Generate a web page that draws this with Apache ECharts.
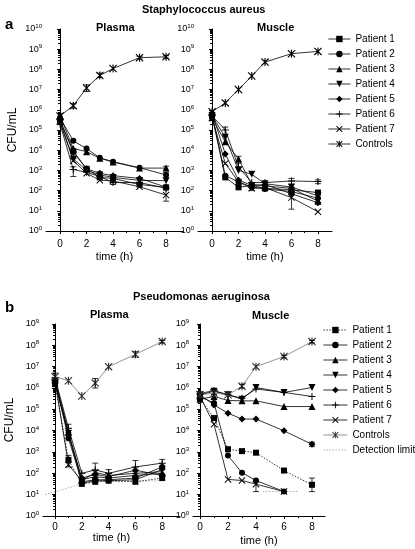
<!DOCTYPE html>
<html><head><meta charset="utf-8">
<script src="https://cdn.jsdelivr.net/npm/echarts@6/dist/echarts.min.js"></script>
<style>html,body{margin:0;padding:0;background:#fff}#c{width:415px;height:549px}</style>
</head><body><div id="c"></div>
<script>
// ---------- data ----------
const times = [0, 1, 2, 3, 4, 6, 8];
const xTickValues = [0, 2, 4, 6, 8];
const xMinorValues = [1, 3, 5, 7];
const patientNames = ['Patient 1', 'Patient 2', 'Patient 3', 'Patient 4', 'Patient 5', 'Patient 6', 'Patient 7', 'Controls'];

// Staphylococcus aureus – plasma
const saPlasmaP1 = [3e5, 9e3, 1.2e3, 450, 400, 200, 145];
const saPlasmaP2 = [4e5, 2.9e4, 1.2e4, 4.2e3, 2.7e3, 1.35e3, 600];
const saPlasmaP3 = [5e5, 1.2e4, 8.5e3, 4e3, 2.6e3, 1.3e3, 1.3e3];
const saPlasmaP4 = [2.5e5, 3.7e3, 1e3, 600, 450, 320, 310];
const saPlasmaP5 = [3e5, 8e3, 1.2e3, 720, 550, 400, 150];
const saPlasmaP6 = [2e5, 1.1e3, 800, 500, 250, 250, 130];
const saPlasmaP7 = [2.5e5, 3e3, 720, 330, 300, 155, 60];
const saPlasmaC  = [5e5, 1.6e6, 1.2e7, 5e7, 1.1e8, 3.8e8, 4.2e8];
const saPlasmaErr = [[0, 3.5e5, 6.5e5], [1, 1.2e6, 2e6], [2, 8e6, 1.7e7], [3, 4e7, 6.5e7], [6, 3.3e8, 4.4e8], [8, 3.6e8, 4.8e8],
  [1, 5e2, 1.5e3], [8, 30, 110], [8, 800, 1.6e3], [4, 200, 500]];

// Staphylococcus aureus – muscle
const saMuscleP1 = [5e5, 450, 145, 180, 130, 110, 80];
const saMuscleP2 = [6e5, 550, 270, 150, 120, 90, 42];
const saMuscleP3 = [4e5, 2.6e4, 3.7e3, 200, 170, 130, 30];
const saMuscleP4 = [5e5, 4.4e4, 1e3, 640, 220, 150, 55];
const saMuscleP5 = [7e5, 6.5e3, 330, 180, 200, 70, 25];
const saMuscleP6 = [5e5, 1e5, 1.5e3, 250, 250, 300, 280];
const saMuscleP7 = [4e5, 2.2e3, 270, 130, 140, 45, 9];
const saMuscleC  = [8e5, 2.2e6, 1e7, 4.7e7, 2.3e8, 6e8, 7.8e8];
const saMuscleErr = [[1, 5e4, 1.4e5], [2, 2.3e3, 5e3], [6, 12, 80], [6, 200, 400], [8, 220, 340], [3, 100, 250]];

// Pseudomonas aeruginosa – plasma
const paPlasmaP1 = [1.5e6, 430, 32, 40, 45, 40, 60];
const paPlasmaP2 = [2e6, 4.4e3, 40, 50, 50, 60, 200];
const paPlasmaP3 = [2.5e6, 9e3, 50, 70, 60, 80, 100];
const paPlasmaP4 = [1.8e6, 7.5e3, 35, 45, 45, 50, 150];
const paPlasmaP5 = [2e6, 6.3e3, 60, 90, 70, 140, 80];
const paPlasmaP6 = [3e6, 1.3e4, 100, 145, 100, 200, 300];
const paPlasmaP7 = [2.2e6, 250, 45, 110, 80, 100, 120];
const paPlasmaC  = [3.4e6, 2.2e6, 4.2e5, 1.7e6, 1e7, 3.8e7, 1.5e8];
const paPlasmaLimit = [[-0.75, 10], [2, 32], [3, 40], [8, 45]];
const paPlasmaErr = [[0, 2.2e6, 5e6], [3, 1e6, 2.8e6], [6, 2.8e7, 5e7], [8, 1.3e8, 1.7e8],
  [1, 8e3, 2e4], [1, 200, 700], [3, 100, 300], [6, 100, 400], [8, 150, 450], [4, 50, 150]];

// Pseudomonas aeruginosa – muscle
const paMuscleP1 = [3.3e5, 3.9e4, 1.35e3, 1.1e3, 930, 135, 29];
const paMuscleP2 = [3.9e5, 2e5, 680, 107, 46, 14, null];
const paMuscleP3 = [3e5, 4e5, 2.6e5, 2.5e5, 2.5e5, 1.35e5, 1.35e5];
const paMuscleP4 = [4.8e5, 7e5, 4.8e5, 3e5, 1.05e6, 6.2e5, 1.05e6];
const paMuscleP5 = [4.8e5, 1.6e5, 6.6e4, 3.5e4, 3.5e4, 9.8e3, 2.3e3];
const paMuscleP6 = [5.5e5, 7.6e5, 4.8e5, 3.3e5, 9e5, 6.2e5, 4e5];
const paMuscleP7 = [4e5, 2e4, 52, 46, 31, 14, null];
const paMuscleC  = [4.8e5, 5.8e5, 4.8e5, 1.2e6, 1e7, 3e7, 1.5e8];
const paMuscleLimit = [[4.5, 14], [7, 14]];
const paMuscleErr = [[8, 14, 60], [4, 14, 45], [8, 1.8e3, 2.9e3], [6, 110, 165], [3, 1e6, 1.5e6],
  [8, 1.3e8, 1.7e8], [6, 2.6e7, 3.4e7], [1, 5e5, 9e5]];

// ---------- helpers ----------
const FONT = '"Liberation Sans", Arial, Helvetica, sans-serif';
const SYM = {
  sq: 'rect',
  circ: 'circle',
  tri: 'triangle',
  dtri: 'path://M0,0L10,0L5,9Z',
  dia: 'diamond',
  plus: 'path://M4.3,0H5.7V10H4.3Z M0,4.3H10V5.7H0Z',
  x: 'path://M0,1L1,0L10,9L9,10Z M9,0L10,1L1,10L0,9Z',
  ast: 'path://M0,1L1,0L10,9L9,10Z M9,0L10,1L1,10L0,9Z M4.3,0H5.7V10H4.3Z'
};
const symList = ['sq', 'circ', 'tri', 'dtri', 'dia', 'plus', 'x', 'ast'];
const symSize = { sq: 6, circ: 6, tri: 7, dtri: 7, dia: 7, plus: 7, x: 7, ast: 8 };
function pairs(arr) {
  const out = [];
  times.forEach((t, i) => { if (arr[i] != null) out.push([t, arr[i]]); });
  return out;
}

const grids = [
  { left: 46, top: 29, width: 137, height: 202, xmin: -1.06, xmax: 9.28, ymax: 1e10, lm: 8, ng: 20 },
  { left: 198, top: 29, width: 134, height: 202, xmin: -1.06, xmax: 9.06, ymax: 1e10, lm: 8, ng: 20 },
  { left: 43, top: 324, width: 137, height: 192, xmin: -0.9, xmax: 9.33, ymax: 1e9, lm: 6, ng: 15 },
  { left: 193, top: 324, width: 132, height: 192, xmin: -0.5, xmax: 8.93, ymax: 1e9, lm: 6, ng: 19 }
];

const xAxes = [], yAxes = [];
grids.forEach((g, i) => {
  xAxes.push({
    gridIndex: i, type: 'value', min: g.xmin, max: g.xmax, position: 'bottom',
    axisLine: { lineStyle: { color: '#000', width: 1 } },
    axisTick: { customValues: xTickValues, length: 3, lineStyle: { color: '#000' } },
    axisLabel: { customValues: xTickValues, fontSize: 10, color: '#000', margin: g.lm, fontFamily: FONT },
    splitLine: { show: false },
    name: 'time (h)', nameLocation: 'middle', nameGap: g.ng,
    nameTextStyle: { fontSize: 11, color: '#000', fontFamily: FONT }
  });
  xAxes.push({
    gridIndex: i, type: 'value', min: g.xmin, max: g.xmax, position: 'bottom',
    axisLine: { show: false },
    axisTick: { customValues: xMinorValues, length: 2, lineStyle: { color: '#000' } },
    axisLabel: { show: false }, splitLine: { show: false }
  });
  yAxes.push({
    gridIndex: i, type: 'log', logBase: 10, min: 1, max: g.ymax, interval: 1,
    axisLine: { show: true, lineStyle: { color: '#000', width: 1 } },
    axisTick: { show: true, length: 3, interval: 0, lineStyle: { color: '#000' } },
    minorTick: { show: true, splitNumber: 9, length: 2, lineStyle: { color: '#000' } },
    splitLine: { show: false },
    axisLabel: {
      margin: 4, fontFamily: FONT, interval: 0, hideOverlap: false,
      formatter: v => '{b|10}{s|' + Math.round(Math.log10(v)) + '}',
      rich: {
        b: { fontSize: 9, color: '#000', fontFamily: FONT, lineHeight: 10 },
        s: { fontSize: 6, color: '#000', fontFamily: FONT, padding: [0, 0, 5, 0] }
      }
    },
    name: (i === 0 || i === 2) ? 'CFU/mL' : '', nameLocation: 'middle', nameRotate: 90, nameGap: 27,
    nameTextStyle: { fontSize: 12, color: '#000', fontFamily: FONT }
  });
});

const series = [];
function addPanel(gi, arrs, suffix, opts) {
  arrs.forEach((arr, k) => {
    const key = symList[k];
    const isC = k === 7;
    let lineColor = '#000', itemColor = '#000', lineType = 'solid';
    if (opts.grayControls && isC) { lineColor = '#777'; itemColor = '#333'; }
    if (opts.dottedP1 && k === 0) { lineType = [1.5, 1.5]; }
    series.push({
      type: 'line', name: patientNames[k] + suffix, xAxisIndex: gi * 2, yAxisIndex: gi,
      data: pairs(arr), symbol: SYM[key], symbolSize: symSize[key], showSymbol: true,
      lineStyle: { color: lineColor, width: 0.8, type: lineType },
      itemStyle: { color: itemColor }, animation: false, z: 3
    });
  });
  if (opts.limit) {
    series.push({
      type: 'line', name: 'Detection limit', xAxisIndex: gi * 2, yAxisIndex: gi,
      data: opts.limit, symbol: 'none', showSymbol: false,
      lineStyle: { color: '#999', width: 0.8, type: [1.5, 1.5] }, itemStyle: { color: '#999', opacity: 0 },
      animation: false, z: 2
    });
  }
  series.push({
    type: 'custom', xAxisIndex: gi * 2, yAxisIndex: gi, data: opts.err, silent: true, z: 4,
    encode: { x: 0, y: [1, 2] }, animation: false,
    renderItem: (params, api) => {
      const x = api.value(0), lo = api.value(1), hi = api.value(2);
      const p1 = api.coord([x, lo]), p2 = api.coord([x, hi]);
      const w = 3, st = { stroke: '#000', lineWidth: 0.8 };
      return {
        type: 'group', children: [
          { type: 'line', shape: { x1: p1[0], y1: p1[1], x2: p2[0], y2: p2[1] }, style: st },
          { type: 'line', shape: { x1: p1[0] - w, y1: p1[1], x2: p1[0] + w, y2: p1[1] }, style: st },
          { type: 'line', shape: { x1: p2[0] - w, y1: p2[1], x2: p2[0] + w, y2: p2[1] }, style: st }
        ]
      };
    }
  });
}
addPanel(0, [saPlasmaP1, saPlasmaP2, saPlasmaP3, saPlasmaP4, saPlasmaP5, saPlasmaP6, saPlasmaP7, saPlasmaC], '', { err: saPlasmaErr });
addPanel(1, [saMuscleP1, saMuscleP2, saMuscleP3, saMuscleP4, saMuscleP5, saMuscleP6, saMuscleP7, saMuscleC], '', { err: saMuscleErr });
const ZW = '\u200b';
addPanel(2, [paPlasmaP1, paPlasmaP2, paPlasmaP3, paPlasmaP4, paPlasmaP5, paPlasmaP6, paPlasmaP7, paPlasmaC], ZW,
  { err: paPlasmaErr, grayControls: true, dottedP1: true, limit: paPlasmaLimit });
addPanel(3, [paMuscleP1, paMuscleP2, paMuscleP3, paMuscleP4, paMuscleP5, paMuscleP6, paMuscleP7, paMuscleC], ZW,
  { err: paMuscleErr, grayControls: true, dottedP1: true, limit: paMuscleLimit });

const legendText = { fontSize: 10, color: '#000', fontFamily: FONT };
const option = {
  backgroundColor: '#fff',
  animation: false,
  grid: grids.map(g => ({ left: g.left, top: g.top, width: g.width, height: g.height, containLabel: false })),
  xAxis: xAxes,
  yAxis: yAxes,
  legend: [
    { orient: 'vertical', left: 328, top: 34, padding: 0, itemWidth: 22, itemHeight: 8, itemGap: 5, selectedMode: false,
      lineStyle: { width: 0.8 }, textStyle: legendText, data: patientNames.slice() },
    { orient: 'vertical', left: 323, top: 325, padding: 0, itemWidth: 24, itemHeight: 8, itemGap: 5, selectedMode: false,
      lineStyle: { width: 0.8 }, textStyle: legendText,
      data: patientNames.map(n => n + ZW).concat([{ name: 'Detection limit', itemStyle: { opacity: 0 } }]) }
  ],
  graphic: [
    { type: 'text', left: 142, top: 4, style: { text: 'Staphylococcus aureus', font: 'bold 11px ' + FONT, fill: '#000' } },
    { type: 'text', left: 5, top: 17, style: { text: 'a', font: 'bold 15px ' + FONT, fill: '#000' } },
    { type: 'text', left: 96, top: 22, style: { text: 'Plasma', font: 'bold 11px ' + FONT, fill: '#000' } },
    { type: 'text', left: 257, top: 22, style: { text: 'Muscle', font: 'bold 11px ' + FONT, fill: '#000' } },
    { type: 'text', left: 133, top: 291, style: { text: 'Pseudomonas aeruginosa', font: 'bold 11px ' + FONT, fill: '#000' } },
    { type: 'text', left: 5, top: 300, style: { text: 'b', font: 'bold 15px ' + FONT, fill: '#000' } },
    { type: 'text', left: 90, top: 309, style: { text: 'Plasma', font: 'bold 11px ' + FONT, fill: '#000' } },
    { type: 'text', left: 252, top: 310, style: { text: 'Muscle', font: 'bold 11px ' + FONT, fill: '#000' } }
  ],
  series: series
};
const chart = echarts.init(document.getElementById('c'), null, { renderer: 'canvas' });
chart.setOption(option);
</script>
</body></html>
